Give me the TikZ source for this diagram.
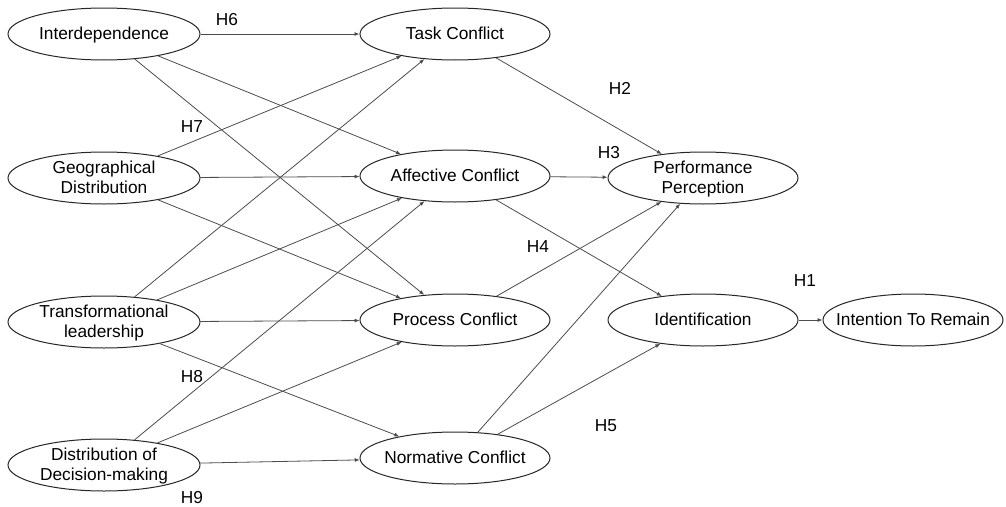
\documentclass[tikz,border=0pt]{standalone}
\usepackage{fontspec}
\setmainfont{Liberation Sans}
\usetikzlibrary{shapes.geometric,arrows.meta}
\newcommand\ctext[1]{\makebox[0pt]{\raisebox{\dimexpr(\depth-\height)/2-1.5pt}[0pt][0pt]{\begin{tabular}{@{}c@{}}#1\end{tabular}}}}
\begin{document}
\begin{tikzpicture}[x=1pt,y=-1pt,
  every node/.style={font=\fontsize{17.3}{20}\selectfont},
  ell/.style={ellipse,draw=black!85,line width=1pt,inner sep=0pt,minimum width=190pt,minimum height=52pt},
  hlab/.style={inner sep=0pt},
  conn/.style={draw=black!70,line width=0.8pt,-{Latex[length=5pt,width=4pt]}}]
\useasboundingbox (0,0) rectangle (1006,506);
\node[ell,minimum width=192pt] (int) at (104,34) {\ctext{Interdependence}};
\node[ell,minimum width=192pt] (gd) at (104,178) {\ctext{Geographical\\Distribution}};
\node[ell,minimum width=192pt] (tl) at (104,322) {\ctext{Transformational\\leadership}};
\node[ell,minimum width=192pt] (ddm) at (104,465) {\ctext{Distribution of\\Decision-making}};
\node[ell] (tc) at (455,34) {\ctext{Task Conflict}};
\node[ell] (ac) at (455,176) {\ctext{Affective Conflict}};
\node[ell] (pc) at (455,320) {\ctext{Process Conflict}};
\node[ell] (nc) at (455,458) {\ctext{Normative Conflict}};
\node[ell] (pp) at (703,178) {\ctext{Performance\\Perception}};
\node[ell] (id) at (703,320) {\ctext{Identification}};
\node[ell,minimum width=180pt] (itr) at (913,320) {\ctext{Intention To Remain}};
\draw[conn] (int) -- (tc);
\draw[conn] (int) -- (ac);
\draw[conn] (int) -- (pc);
\draw[conn] (gd) -- (tc);
\draw[conn] (gd) -- (ac);
\draw[conn] (gd) -- (pc);
\draw[conn] (tl) -- (tc);
\draw[conn] (tl) -- (ac);
\draw[conn] (tl) -- (pc);
\draw[conn] (tl) -- (nc);
\draw[conn] (ddm) -- (ac);
\draw[conn] (ddm) -- (pc);
\draw[conn] (ddm) -- (nc);
\draw[conn] (tc) -- (pp);
\draw[conn] (ac) -- (pp);
\draw[conn] (ac) -- (id);
\draw[conn] (pc) -- (pp);
\draw[conn] (nc) -- (pp);
\draw[conn] (nc) -- (id);
\draw[conn] (id) -- (itr);
\node[hlab] (h6) at (227,20) {H6};
\node[hlab] (h7) at (192,127) {H7};
\node[hlab] (h8) at (192,377) {H8};
\node[hlab] (h9) at (192,498) {H9};
\node[hlab] (h2) at (620,88) {H2};
\node[hlab] (h3) at (609,153) {H3};
\node[hlab] (h4) at (538,247) {H4};
\node[hlab] (h1) at (805,281) {H1};
\node[hlab] (h5) at (606,426) {H5};
\end{tikzpicture}
\end{document}
